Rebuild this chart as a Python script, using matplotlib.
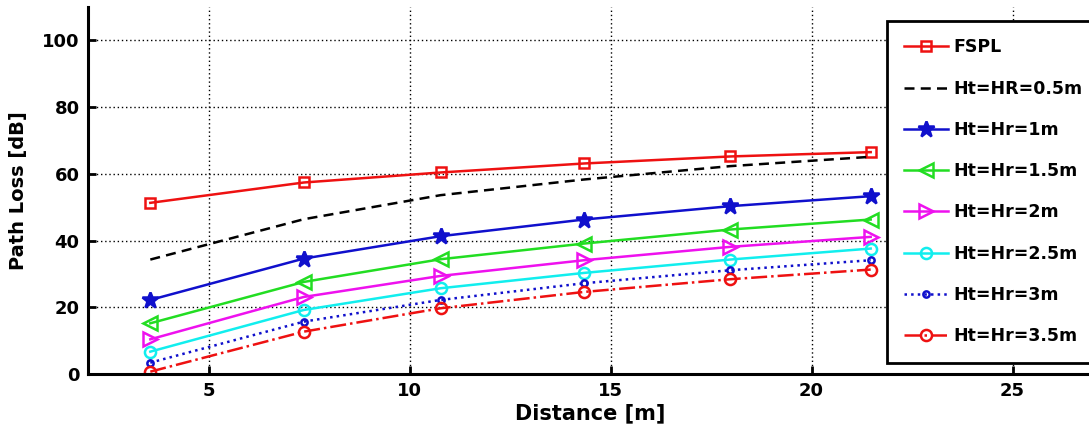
import matplotlib

matplotlib.use("Agg")
import matplotlib.pyplot as plt

plt.rcParams["font.family"] = ["DejaVu Sans"]
plt.rcParams["font.weight"] = "bold"

# distance of each measurement point [m]
distance = [3.55, 7.37, 10.77, 14.34, 17.97, 21.47]

# path loss [dB] per antenna height setting
fspl = [51.3, 57.4, 60.4, 63.1, 65.2, 66.5]
h05 = [34.3, 46.4, 53.6, 58.3, 62.3, 65.1]
h10 = [22.2, 34.6, 41.3, 46.3, 50.3, 53.3]
h15 = [15.2, 27.6, 34.4, 39.1, 43.3, 46.3]
h20 = [10.4, 23.1, 29.4, 34.1, 38.1, 41.1]
h25 = [6.7, 19.2, 25.7, 30.3, 34.3, 37.6]
h30 = [3.4, 15.7, 22.2, 27.2, 31.1, 34.1]
h35 = [0.7, 12.7, 19.7, 24.6, 28.4, 31.3]

labels = ["FSPL", "Ht=HR=0.5m", "Ht=Hr=1m", "Ht=Hr=1.5m", "Ht=Hr=2m",
          "Ht=Hr=2.5m", "Ht=Hr=3m", "Ht=Hr=3.5m"]
x_ticks = [5, 10, 15, 20, 25]
y_ticks = [0, 20, 40, 60, 80, 100]

fig = plt.figure(figsize=(10.89, 4.28), dpi=100)
ax = fig.add_axes([88 / 1089, 54 / 428, 1005 / 1089, 367 / 428])

# (values, color, linestyle, marker, markersize, filled)
styles = [
    (fspl, "#ee1111", "-", "s", 7, False),
    (h05, "black", (0, (4, 2.5)), None, 0, False),
    (h10, "#1010cc", "-", "*", 12, True),
    (h15, "#22dd22", "-", "<", 10, False),
    (h20, "#ee11ee", "-", ">", 10, False),
    (h25, "#11eeee", "-", "o", 8, False),
    (h30, "#1010cc", ":", "o", 4.5, False),
    (h35, "#ee1111", "-.", "o", 8, False),
]
for (ys, col, ls, mk, ms, filled), lab in zip(styles, labels):
    ax.plot(distance, ys, color=col, ls=ls, lw=1.8, marker=mk, ms=ms,
            mfc=col if filled else "none", mec=col, mew=1.8, label=lab)

ax.set_xlim(2, 27)
ax.set_ylim(0, 110)
ax.set_xticks(x_ticks)
ax.set_yticks(y_ticks)
ax.tick_params(direction="in", length=6, width=2, labelsize=13, pad=6)
for t in ax.get_xticklabels() + ax.get_yticklabels():
    t.set_fontweight("bold")
ax.grid(True, color="black", ls=(0, (1, 2)), lw=1)
for side in ("top", "right"):
    ax.spines[side].set_visible(False)
for side in ("left", "bottom"):
    ax.spines[side].set_linewidth(2.2)

ax.set_xlabel("Distance [m]", fontsize=15, fontweight="bold", labelpad=2)
ax.set_ylabel("Path Loss [dB]", fontsize=14, fontweight="bold", labelpad=10)

leg = ax.legend(loc="upper left", bbox_to_anchor=(887 / 1089, 1 - 21 / 428),
                bbox_transform=fig.transFigure, fontsize=12.5, labelspacing=1.34,
                handlelength=2.5, handletextpad=0.35, borderpad=1.0,
                borderaxespad=0, fancybox=False, framealpha=1,
                edgecolor="black")
leg.get_frame().set_linewidth(2)
for t in leg.get_texts():
    t.set_fontweight("bold")

fig.savefig("out.png", dpi=100)
